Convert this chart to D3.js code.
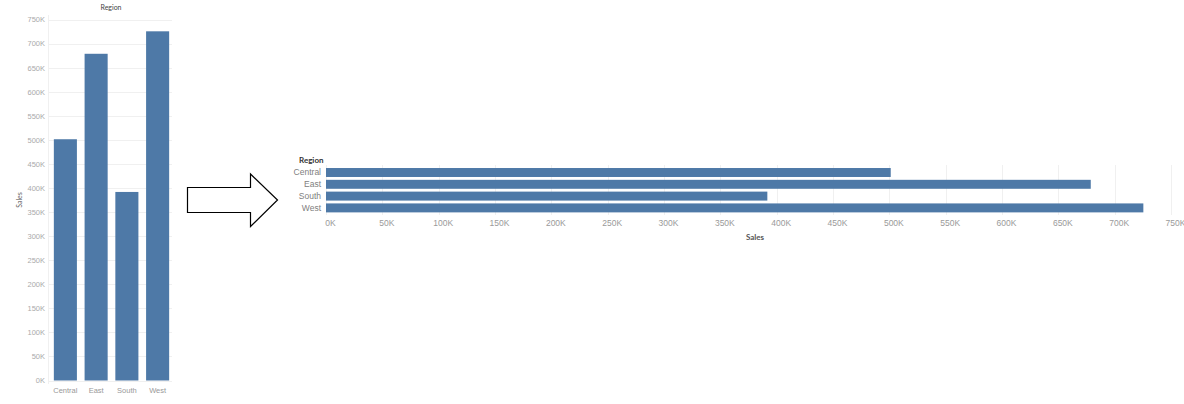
<!DOCTYPE html>
<html>
<head>
<meta charset="utf-8">
<script src="https://cdn.jsdelivr.net/npm/d3@7"></script>
<style>
  body { margin: 0; background: #fff; }
  svg { display: block; font-family: Lato, "Open Sans", sans-serif; }
  .tick text { fill: #9a9a9a; font-size: 8.5px; }
  .domain { display: none; }
</style>
</head>
<body>
<div id="chart"></div>
<script>
var regions = ['Central', 'East', 'South', 'West'];
var sales = [501240, 678781, 391722, 725458];
var tickValues = [0, 50000, 100000, 150000, 200000, 250000, 300000, 350000, 400000, 450000, 500000, 550000, 600000, 650000, 700000, 750000];

var barColor = '#4e79a7', gridColor = '#f0f0f0';
var fmt = function(d) { return (d / 1000) + 'K'; };

var svg = d3.select('#chart').append('svg')
  .attr('width', 1184)
  .attr('height', 404);

// ---- left: vertical bars ----
var left = svg.append('g');
var xL = d3.scaleBand().domain(regions).range([50, 173]).paddingInner(0.25).paddingOuter(0.125);
var yL = d3.scaleLinear().domain([0, 750000]).range([380.5, 19.5]);

left.selectAll('line.grid')
  .data(tickValues)
  .enter().append('line')
  .attr('class', 'grid')
  .attr('x1', 48).attr('x2', 172)
  .attr('y1', function(d) { return Math.round(yL(d)) + 0.5; })
  .attr('y2', function(d) { return Math.round(yL(d)) + 0.5; })
  .style('stroke', gridColor);
left.append('line')
  .attr('x1', 48.5).attr('x2', 48.5).attr('y1', 15).attr('y2', 384)
  .style('stroke', gridColor);

left.selectAll('rect')
  .data(sales)
  .enter().append('rect')
  .style('fill', barColor)
  .attr('x', function(d, i) { return xL(regions[i]); })
  .attr('width', xL.bandwidth())
  .attr('y', function(d) { return yL(d); })
  .attr('height', function(d) { return yL(0) - yL(d); });

left.append('g')
  .attr('transform', 'translate(47,0)')
  .call(d3.axisLeft(yL).tickValues(tickValues).tickFormat(fmt).tickSize(0).tickPadding(2))
  .selectAll('text').style('font-size', '7.5px').style('fill', '#aaa');
left.append('g')
  .attr('transform', 'translate(0,385)')
  .call(d3.axisBottom(xL).tickSize(0).tickPadding(3))
  .selectAll('text').style('font-size', '7.5px').style('fill', '#999');

left.append('text')
  .attr('x', 111).attr('y', 10)
  .attr('text-anchor', 'middle')
  .style('font-size', '7px').style('fill', '#444')
  .text('Region');
left.append('text')
  .attr('transform', 'translate(22,200) rotate(-90)')
  .attr('text-anchor', 'middle')
  .style('font-size', '7px').style('fill', '#666')
  .text('Sales');

// ---- arrow ----
svg.append('path')
  .attr('d', d3.line()([[187.5, 187.5], [250.5, 187.5], [250.5, 174], [277.5, 200], [250.5, 226.5], [250.5, 212.5], [187.5, 212.5]]) + 'Z')
  .style('fill', '#fff')
  .style('stroke', '#000')
  .style('stroke-width', 1.2);

// ---- right: horizontal bars ----
var right = svg.append('g');
var xR = d3.scaleLinear().domain([0, 750000]).range([326, 1171]);
var yR = d3.scaleBand().domain(regions).range([166.6, 213.8]).paddingInner(0.24).paddingOuter(0.12);

right.selectAll('line.grid')
  .data(tickValues)
  .enter().append('line')
  .attr('class', 'grid')
  .attr('x1', function(d) { return Math.round(xR(d)) + 0.5; })
  .attr('x2', function(d) { return Math.round(xR(d)) + 0.5; })
  .attr('y1', 165).attr('y2', 215)
  .style('stroke', gridColor);

right.selectAll('rect')
  .data(sales)
  .enter().append('rect')
  .style('fill', barColor)
  .attr('x', xR(0))
  .attr('y', function(d, i) { return yR(regions[i]); })
  .attr('height', yR.bandwidth())
  .attr('width', function(d) { return xR(d) - xR(0); });

right.append('g')
  .attr('transform', 'translate(0,218)')
  .call(d3.axisBottom(xR).tickValues(tickValues).tickFormat(fmt).tickSize(0).tickPadding(2))
  .selectAll('text').attr('dx', 4);
right.append('g')
  .attr('transform', 'translate(323,0)')
  .call(d3.axisLeft(yR).tickSize(0).tickPadding(2))
  .selectAll('text').style('font-size', '8.5px').style('fill', '#808080');

right.append('text')
  .attr('x', 299).attr('y', 163)
  .style('font-size', '8px').style('font-weight', 'bold').style('fill', '#333')
  .text('Region');
right.append('text')
  .attr('x', 755).attr('y', 240)
  .attr('text-anchor', 'middle')
  .style('font-size', '8px').style('font-weight', 'bold').style('fill', '#555')
  .text('Sales');
</script>
</body>
</html>
